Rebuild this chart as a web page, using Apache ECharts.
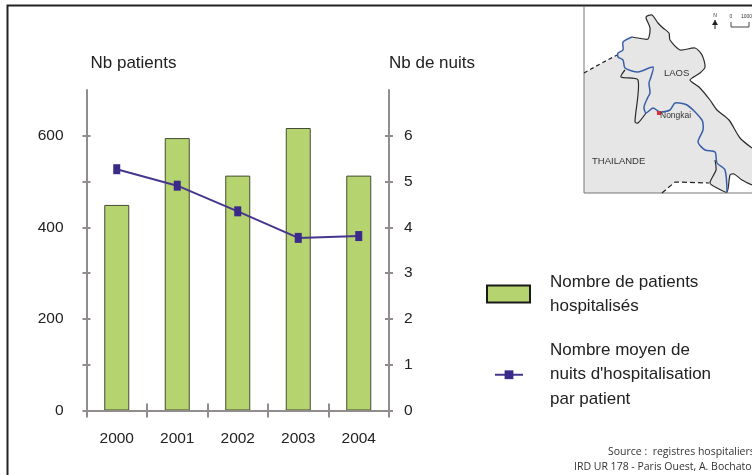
<!DOCTYPE html>
<html><head><meta charset="utf-8">
<script src="https://cdn.jsdelivr.net/npm/echarts@6/dist/echarts.min.js"></script>
<style>html,body{margin:0;padding:0;background:#fff}#c{width:752px;height:475px}</style>
</head><body><div id="c"></div>
<script>
const years = ['2000','2001','2002','2003','2004'];
const patients = [449,595,513,617,513];
const nuits = [5.27,4.91,4.35,3.77,3.81];
const leftTicks = [0,100,200,300,400,500,600];
const leftLabels = [0,200,400,600];
const rightTicks = [0,1,2,3,4,5,6];
const barName = 'Nombre de patients\nhospitalisés';
const lineName = "Nombre moyen de\nnuits d'hospitalisation\npar patient";

const font = '"Liberation Sans", Arial, sans-serif';
const axisGrey = '#928d8d';
const axisLine = {show:true,onZero:false,lineStyle:{color:axisGrey,width:2}};
const tickStyle = {color:axisGrey,width:2};
const inkText = '#222';

function pl(points, color, width, dash, smooth){
  return {type:'polyline',silent:true,shape:{points:points,smooth:smooth===undefined?0.25:smooth},
    style:{stroke:color,lineWidth:width,fill:null,lineDash:dash||null}};
}
function tx(x,y,text,size,extra){
  return {type:'text',silent:true,x:x,y:y,style:Object.assign({text:text,font:size+'px '+font,fill:'#333',textVerticalAlign:'middle'},extra||{})};
}
const mapGraphics = [
  {type:'polygon',silent:true,shape:{points:[[584,73],[600,64],[617,55],[619,52],[623,50],[623,42],[632,37],[638,38],[648,39],[650,28],[646,17],[652,15],[658,23],[663,28],[669,33],[670,40],[680,50],[695,48],[702,55],[705,67],[700,73],[690,80],[699,87],[710,100],[717,110],[729,120],[740,138],[752,148],[752,185],[742,180],[734,174],[730,175],[727,192],[717,188],[709,183],[675,182],[662,193],[584,193]]},style:{fill:'#e7e6e6'}},
  pl([[584,6],[584,193],[752,193]],'#777',1,null,0),
  pl([[584,73],[600,64],[617,55]],'#222',1.2,[4,3],0),
  pl([[632,37],[638,38],[648,39],[650,28],[646,17],[652,15],[658,23],[663,28],[669,33],[670,40],[680,50],[695,48],[702,55],[705,67],[700,73],[690,80],[699,87],[710,100],[717,110],[729,120],[740,138],[752,148]],'#2a2a2a',1.2),
  pl([[625,70],[621,77],[638,80],[635,122],[638,123],[646,113]],'#2a2a2a',1.2),
  pl([[715,160],[716,170],[710,183],[717,188],[727,192],[730,175],[734,174],[742,180],[752,185]],'#2a2a2a',1.2),
  pl([[662,193],[675,182],[709,183]],'#222',1.2,[5,3],0),
  pl([[632,37],[623,42],[623,50],[618,53],[618,57],[623,60],[625,68],[638,72],[653,67],[651,77],[649,83],[650,93],[648,97],[644,107],[646,113],[653,108],[660,112],[670,110],[675,103],[687,105],[702,120],[703,130],[698,142],[705,150],[715,152],[717,163],[725,170],[727,192]],'#3a5fa8',1.5),
  {type:'rect',silent:true,shape:{x:657,y:111,width:4,height:4},style:{fill:'#e03030'}},
  tx(664,73,'LAOS',9.5),
  tx(660,116,'Nongkai',8.5),
  tx(592,161,'THAILANDE',9.5),
  tx(715,16,'N',5,{textAlign:'center'}),
  pl([[715,29],[715,20]],'#222',1,null,0),
  {type:'polygon',silent:true,shape:{points:[[712,25],[715,20],[718,25]]},style:{fill:'#222'}},
  pl([[731,22],[731,27],[749,27],[749,22]],'#444',1,null,0),
  tx(731,17,'0',5,{textAlign:'center',fontStyle:'italic'}),
  tx(741,17,'1000',5,{fontStyle:'italic'})
];
const frame = [
  pl([[7.5,475],[7.5,5.5],[752,5.5]],'#222',2,null,0)
];
const sourceFont = '"Open Sans", sans-serif';
const sourceText = [
  {type:'text',silent:true,x:608,y:452,style:{text:'Source :  registres hospitaliers',font:'10.5px '+sourceFont,fill:'#333',textVerticalAlign:'middle'}},
  {type:'text',silent:true,x:574,y:467,style:{text:'IRD UR 178 - Paris Ouest, A. Bochaton',font:'10.5px '+sourceFont,fill:'#333',textVerticalAlign:'middle'}}
];

const chart = echarts.init(document.getElementById('c'),null,{renderer:'canvas'});
chart.setOption({
  animation:false,
  backgroundColor:'#fff',
  textStyle:{fontFamily:font},
  grid:{left:86.5,right:363,top:90,bottom:64.5,containLabel:false},
  legend:[
    {data:[{name:barName,icon:'rect'}],left:486,top:269,padding:0,orient:'vertical',itemWidth:43,itemHeight:17,itemGap:0,
     itemStyle:{borderColor:'#1a1a1a',borderWidth:2},
     textStyle:{fontSize:17,lineHeight:24,color:inkText,padding:[2,0,0,15],fontFamily:font},selectedMode:false},
    {data:[lineName],left:494,top:337,padding:0,orient:'vertical',itemWidth:28,itemHeight:11,itemGap:0,
     textStyle:{fontSize:17,lineHeight:24.5,color:inkText,padding:[2,0,0,22],fontFamily:font},selectedMode:false}
  ],
  xAxis:[
    {type:'category',data:years,axisLine:axisLine,z:6,
     axisTick:{show:true,length:7,lineStyle:tickStyle},
     axisLabel:{fontSize:15.5,color:inkText,margin:20,fontFamily:font}},
    {type:'category',data:years,position:'bottom',axisLine:{show:false},z:6,
     axisTick:{show:true,inside:true,length:7,lineStyle:tickStyle},axisLabel:{show:false}}
  ],
  yAxis:[
    {type:'value',min:0,max:700,interval:100,position:'left',name:'Nb patients',nameLocation:'end',nameGap:18,
     nameTextStyle:{fontSize:17,color:inkText,align:'left',padding:[0,0,0,4],fontFamily:font},
     axisLine:axisLine,splitLine:{show:false},z:6,
     axisTick:{show:true,length:4,customValues:leftTicks,lineStyle:tickStyle},
     axisLabel:{fontSize:15.5,color:inkText,margin:23,customValues:leftLabels,fontFamily:font,padding:[4,0,0,0]}},
    {type:'value',min:0,max:7,interval:1,position:'right',name:'Nb de nuits',nameLocation:'end',nameGap:18,
     nameTextStyle:{fontSize:17,color:inkText,align:'left',fontFamily:font},
     axisLine:axisLine,splitLine:{show:false},z:6,
     axisTick:{show:true,length:4,customValues:rightTicks,lineStyle:tickStyle},
     axisLabel:{fontSize:15.5,color:inkText,margin:15,customValues:rightTicks,fontFamily:font}},
    {type:'value',min:0,max:700,interval:100,position:'left',axisLine:{show:false},splitLine:{show:false},z:6,
     axisTick:{show:true,inside:true,length:4,customValues:leftTicks,lineStyle:tickStyle},axisLabel:{show:false}},
    {type:'value',min:0,max:7,interval:1,position:'right',axisLine:{show:false},splitLine:{show:false},z:6,
     axisTick:{show:true,inside:true,length:4,customValues:rightTicks,lineStyle:tickStyle},axisLabel:{show:false}}
  ],
  series:[
    {type:'bar',name:barName,data:patients,yAxisIndex:0,barWidth:25,
     itemStyle:{color:'#b5d36e',borderColor:'#454c35',borderWidth:1}},
    {type:'line',name:lineName,data:nuits,yAxisIndex:1,symbol:'rect',symbolSize:[7,10],
     lineStyle:{color:'#47368e',width:2},itemStyle:{color:'#3a2a8a'},z:5}
  ],
  graphic:{elements:[].concat(frame,mapGraphics,sourceText)}
});
</script></body></html>
